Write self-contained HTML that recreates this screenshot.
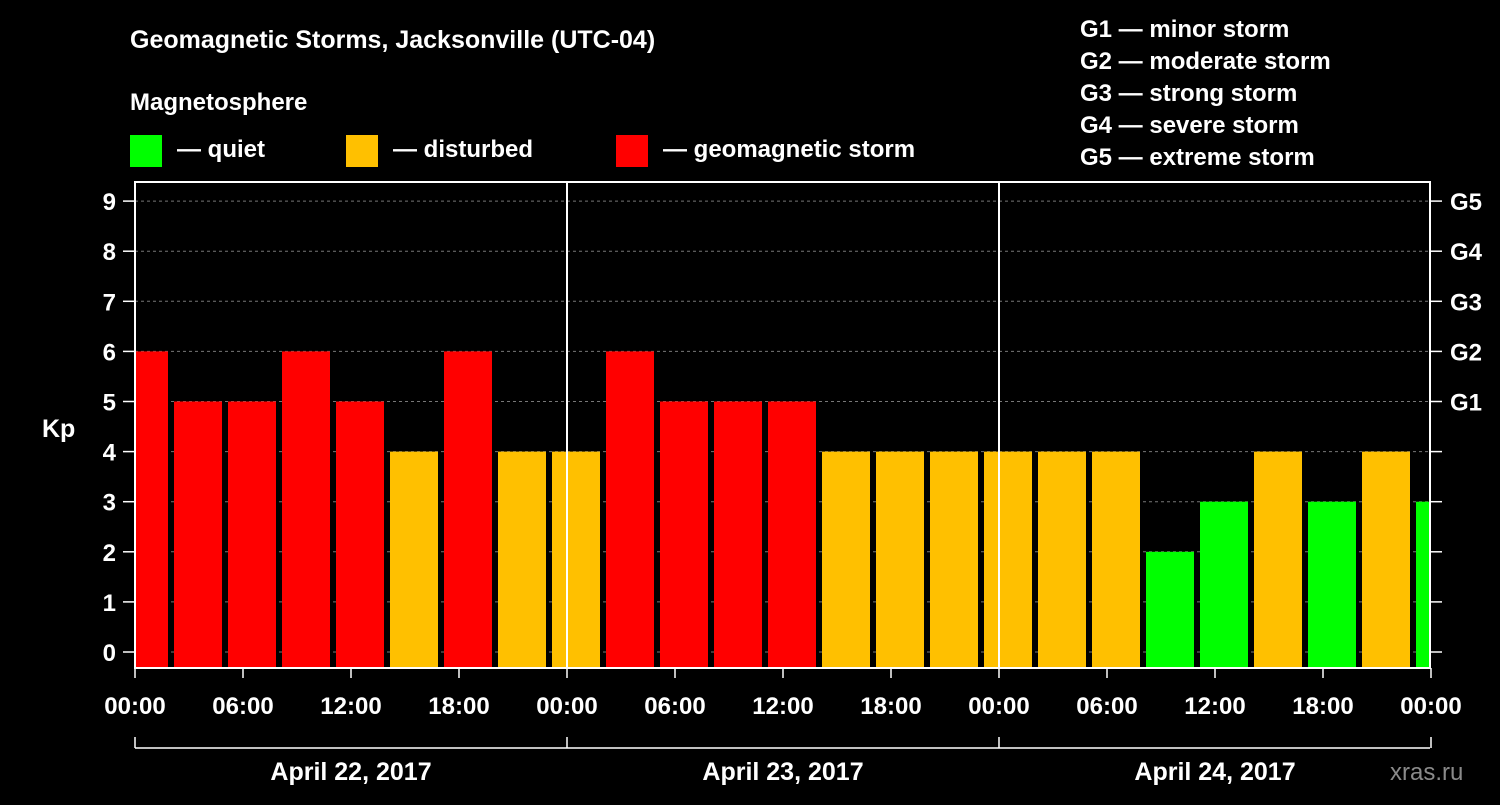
<!DOCTYPE html>
<html><head><meta charset="utf-8"><style>
body{margin:0;background:#000;width:1500px;height:800px;overflow:hidden}
svg text{font-family:"Liberation Sans",Arial,sans-serif;font-weight:bold;fill:#fff}
</style></head><body>
<svg id="chart" width="1500" height="800" xmlns="http://www.w3.org/2000/svg">
<rect width="1500" height="800" fill="#000"/>
<text x="130" y="48" font-size="25">Geomagnetic Storms, Jacksonville (UTC-04)</text>
<text x="130" y="110" font-size="24">Magnetosphere</text>
<g><rect x="130" y="135" width="32" height="32" fill="#00ff00"/><text x="177" y="157" font-size="24">— quiet</text></g>
<g><rect x="346" y="135" width="32" height="32" fill="#ffc000"/><text x="393" y="157" font-size="24">— disturbed</text></g>
<g><rect x="616" y="135" width="32" height="32" fill="#ff0000"/><text x="663" y="157" font-size="24">— geomagnetic storm</text></g>
<g font-size="24">
<text x="1080" y="37">G1 — minor storm</text>
<text x="1080" y="69">G2 — moderate storm</text>
<text x="1080" y="101">G3 — strong storm</text>
<text x="1080" y="133">G4 — severe storm</text>
<text x="1080" y="165">G5 — extreme storm</text>
</g>
<text x="42" y="437" font-size="25">Kp</text>
<text x="1390" y="780" font-size="24" fill="#888" style="fill:#8a8a8a;font-weight:normal">xras.ru</text>
<g id="grid"></g><g id="bars"></g><g id="axes"></g>
</svg>
<script>
const kpValues=[6,5,5,6,5,4,6,4,4,6,5,5,5,4,4,4,4,4,4,2,3,4,3,4,3];
const dayLabels=["April 22, 2017","April 23, 2017","April 24, 2017"];
const hourLabels=["00:00","06:00","12:00","18:00"];
const gLabels=["G1","G2","G3","G4","G5"];
const firstBarStartHour=-1; // local hours from Apr 22 00:00
const X0=135,X1=1430,PXH=18,YT=182,YB=668;
const xs=h=>Math.max(X0,Math.min(X1,X0+h*PXH));
const ys=v=>652-v*50.1;
const NS="http://www.w3.org/2000/svg";
function mk(p,t,a){const e=document.createElementNS(NS,t);for(const k in a)e.setAttribute(k,a[k]);p.appendChild(e);return e;}
const grid=document.getElementById('grid'),bars=document.getElementById('bars'),axes=document.getElementById('axes');
for(let v=0;v<=9;v++){
 const l=mk(grid,'line',{x1:X0,x2:X1,y1:ys(v),y2:ys(v),stroke:'#777','stroke-dasharray':'3,3','stroke-width':1});
 
 
}
kpValues.forEach((v,i)=>{
 const s=firstBarStartHour+i*3;
 let a=xs(s),b=xs(s+3);
 a=(a<=X0?X0+1:a+3); b=(b>=X1?X1-1:b-3);
 const c=v>=5?'#ff0000':v>=4?'#ffc000':'#00ff00';
 const r=mk(bars,'rect',{x:a,y:ys(v),width:b-a,height:YB-ys(v),fill:c});
 
 
});
const box=mk(axes,'rect',{x:X0,y:YT,width:X1-X0,height:YB-YT,fill:'none',stroke:'#fff','stroke-width':2});


for(let v=0;v<=9;v++){
 mk(axes,'line',{x1:123,x2:X0,y1:ys(v),y2:ys(v),stroke:'#fff','stroke-width':1.5});
 mk(axes,'line',{x1:X1,x2:1442,y1:ys(v),y2:ys(v),stroke:'#fff','stroke-width':1.5});
 const t=mk(axes,'text',{x:116,y:ys(v)+9,'font-size':24,'text-anchor':'end'});t.textContent=v;
 
 
 if(v>=5){const g=mk(axes,'text',{x:1450,y:ys(v)+9,'font-size':24});g.textContent=gLabels[v-5];
 
 }
}
for(let d=0;d<=3;d++){
 const x=X0+d*24*PXH;
 if(d>0&&d<3)mk(axes,'line',{x1:x,x2:x,y1:YT,y2:YB,stroke:'#fff','stroke-width':2});
 mk(axes,'line',{x1:x,x2:x,y1:737,y2:748,stroke:'#fff','stroke-width':1.5});
}
mk(axes,'line',{x1:X0,x2:X1,y1:748,y2:748,stroke:'#fff','stroke-width':1.5});
for(let h=0;h<=72;h+=6){
 const x=X0+h*PXH;
 mk(axes,'line',{x1:x,x2:x,y1:YB,y2:678,stroke:'#fff','stroke-width':1.5});
 const t=mk(axes,'text',{x:x,y:714,'font-size':24,'text-anchor':'middle'});t.textContent=hourLabels[(h/6)%4];
 
 
}
dayLabels.forEach((s,i)=>{const t=mk(axes,'text',{x:X0+(i+0.5)*24*PXH,y:780,'font-size':25,'text-anchor':'middle'});t.textContent=s;
 
 });
</script>
</body></html>
